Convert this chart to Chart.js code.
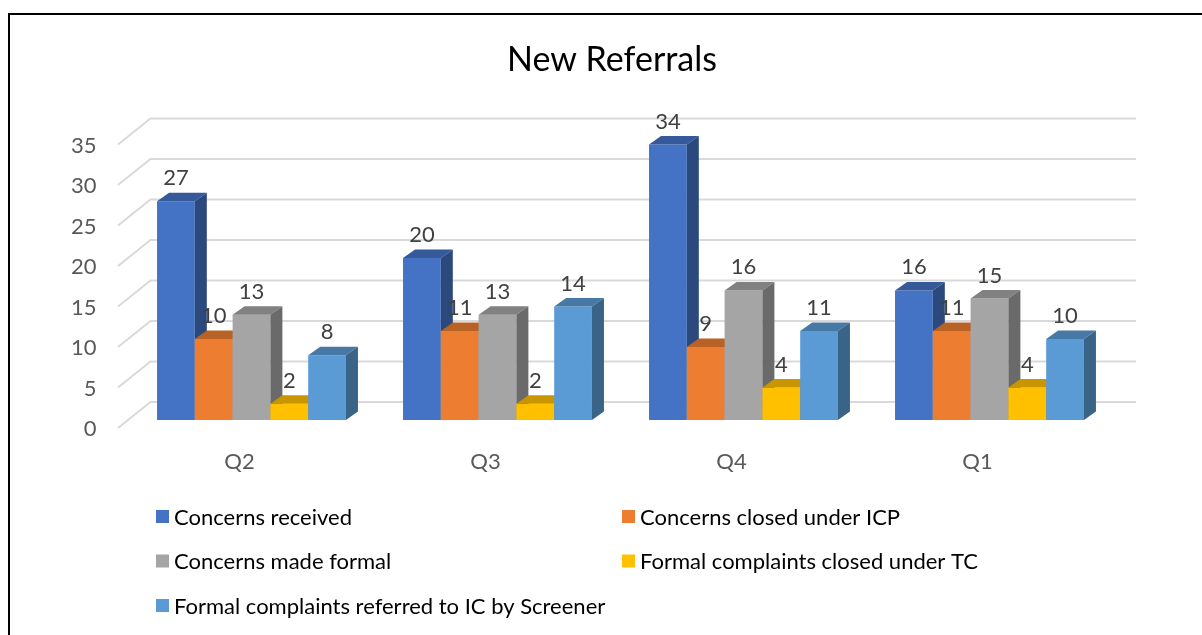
<!DOCTYPE html>
<html>
<head>
<meta charset="utf-8">
<script src="https://cdn.jsdelivr.net/npm/chart.js@4.4.1/dist/chart.umd.min.js"></script>
<style>
  html, body { margin: 0; padding: 0; background: #fff; overflow: hidden; }
  #wrap { position: relative; width: 1202px; height: 635px; }
</style>
</head>
<body>
<div id="wrap"><canvas id="chart" width="1202" height="635"></canvas></div>
<script>
const title = 'New Referrals';
const quarters = ['Q2', 'Q3', 'Q4', 'Q1'];
const seriesNames = [
    'Concerns received',
    'Concerns closed under ICP',
    'Concerns made formal',
    'Formal complaints closed under TC',
    'Formal complaints referred to IC by Screener'
];
const concernsReceived = [27, 20, 34, 16];
const closedUnderICP = [10, 11, 9, 11];
const madeFormal = [13, 13, 16, 15];
const closedUnderTC = [2, 2, 4, 4];
const referredToIC = [8, 14, 11, 10];
const yTicks = [0, 5, 10, 15, 20, 25, 30, 35];

const colors = ['#4472C4', '#ED7D31', '#A5A5A5', '#FFC000', '#5B9BD5'];
const FONT = 'Lato, "Open Sans", sans-serif';

// depth of a bar and of the back wall (relative to the bar front plane)
const DX = 12, DY = 8.5;
const WALL_BACK = { dx: 22, dy: -18 };
const WALL_FRONT = { dx: -10.5, dy: 8 };

const shade = (hex, f) => {
    const n = parseInt(hex.slice(1), 16);
    const r = Math.round(((n >> 16) & 255) * f);
    const g = Math.round(((n >> 8) & 255) * f);
    const b = Math.round((n & 255) * f);
    return `rgb(${r},${g},${b})`;
};

const values = [concernsReceived, closedUnderICP, madeFormal, closedUnderTC, referredToIC];

const threeD = {
    id: 'threeD',
    beforeDraw(chart) {
        const ctx = chart.ctx;
        ctx.save();
        ctx.fillStyle = '#000';
        ctx.fillRect(8, 13, chart.width - 8, 2);
        ctx.fillRect(8, 13, 2, chart.height - 13);
        // title
        ctx.font = `34px ${FONT}`;
        ctx.textAlign = 'center';
        ctx.textBaseline = 'alphabetic';
        ctx.fillText(title, 612, 71);
        ctx.restore();
    },
    beforeDatasetsDraw(chart) {
        const { ctx, chartArea } = chart;
        const y = chart.scales.y;
        ctx.save();
        // back wall + side wall grid lines
        ctx.strokeStyle = '#D9D9D9';
        ctx.lineWidth = 2;
        y.ticks.forEach(t => {
            const p = y.getPixelForValue(t.value);
            ctx.beginPath();
            ctx.moveTo(chartArea.left + WALL_FRONT.dx, p + WALL_FRONT.dy);
            ctx.lineTo(chartArea.left + WALL_BACK.dx, p + WALL_BACK.dy);
            ctx.lineTo(chartArea.right + WALL_BACK.dx + 1.5, p + WALL_BACK.dy);
            ctx.stroke();
        });
        // bars, left to right, so each front face covers the previous side face
        chart.data.datasets.forEach((ds, i) => {
            const color = colors[i];
            chart.getDatasetMeta(i).data.forEach(bar => {
                bar.draw(ctx);
                const { x, y, base, width } = bar.getProps(['x', 'y', 'base', 'width'], true);
                const l = x - width / 2, r = x + width / 2;
                ctx.fillStyle = shade(color, 0.78);
                ctx.beginPath();
                ctx.moveTo(l, y);
                ctx.lineTo(r, y);
                ctx.lineTo(r + DX, y - DY);
                ctx.lineTo(l + DX, y - DY);
                ctx.closePath();
                ctx.fill();
                ctx.fillStyle = shade(color, 0.64);
                ctx.beginPath();
                ctx.moveTo(r, y);
                ctx.lineTo(r + DX, y - DY);
                ctx.lineTo(r + DX, base - DY);
                ctx.lineTo(r, base);
                ctx.closePath();
                ctx.fill();
            });
        });
        ctx.restore();
        return false;
    },
    afterDraw(chart) {
        const ctx = chart.ctx;
        ctx.save();
        // value labels
        ctx.font = `22px ${FONT}`;
        ctx.fillStyle = '#404040';
        ctx.textAlign = 'center';
        ctx.textBaseline = 'alphabetic';
        chart.data.datasets.forEach((ds, i) => {
            chart.getDatasetMeta(i).data.forEach((bar, j) => {
                const { x, y } = bar.getProps(['x', 'y'], true);
                ctx.fillText(String(ds.data[j]), x, y - 16);
            });
        });
        // legend in two columns
        const cols = [156, 622];
        const rows = [516.5, 561, 605.5];
        ctx.textBaseline = 'middle';
        ctx.textAlign = 'left';
        chart.data.datasets.forEach((ds, i) => {
            const bx = cols[i % 2], by = rows[Math.floor(i / 2)];
            ctx.fillStyle = colors[i];
            ctx.fillRect(bx, by - 6.5, 13, 13);
            ctx.fillStyle = '#000';
            ctx.fillText(ds.label, bx + 18, by + 1);
        });
        ctx.restore();
    }
};

new Chart(document.getElementById('chart'), {
    type: 'bar',
    data: {
        labels: quarters,
        datasets: seriesNames.map((name, i) => ({
            label: name,
            data: values[i],
            backgroundColor: colors[i],
            borderWidth: 0,
            categoryPercentage: 0.768,
            barPercentage: 1.0
        }))
    },
    options: {
        responsive: false,
        animation: false,
        layout: { padding: { left: 0, right: 89.5, top: 136.5, bottom: 155 } },
        plugins: {
            legend: { display: false },
            title: { display: false },
            tooltip: { enabled: false }
        },
        scales: {
            x: {
                grid: { display: false, drawTicks: false },
                border: { display: false },
                ticks: { font: { family: FONT, size: 22 }, color: '#595959', padding: 29, labelOffset: -12 },
                afterFit(scale) { scale.height = 60; }
            },
            y: {
                min: 0,
                max: 35,
                grid: { display: false, drawTicks: false },
                border: { display: false },
                afterBuildTicks(scale) { scale.ticks = yTicks.map(v => ({ value: v })); },
                ticks: { font: { family: FONT, size: 22 }, color: '#595959', padding: 32, labelOffset: 9 },
                afterFit(scale) { scale.width = 128.5; }
            }
        }
    },
    plugins: [threeD]
});
</script>
</body>
</html>
